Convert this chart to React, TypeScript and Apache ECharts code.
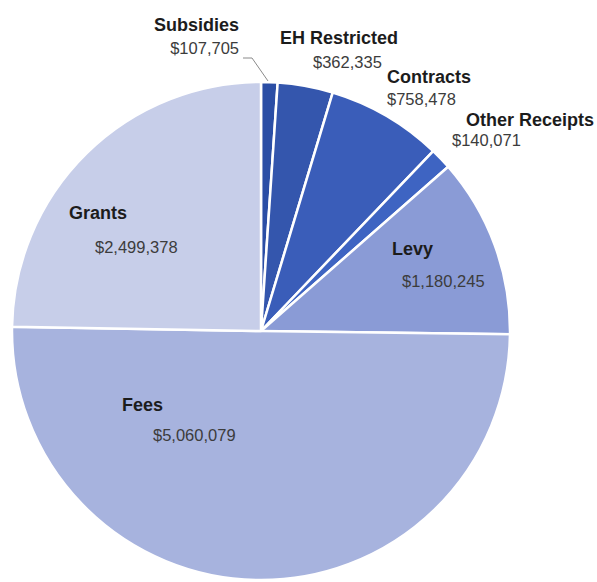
import React, { useEffect, useRef } from "react";
import * as echarts from "echarts";

const categories = ["Subsidies", "EH Restricted", "Contracts", "Other Receipts", "Levy", "Fees", "Grants"];
const values = [107705, 362335, 758478, 140071, 1180245, 5060079, 2499378];
const colors = ["#2b4ea5", "#3456ad", "#3a5db9", "#3e64c2", "#8a9bd6", "#a7b3de", "#c7cee9"];

// label layout (text placement only)
const LABEL_LAYOUT = [
  { x: 239, y: 13, align: "right", lh: 23, nPad: 0, vPad: 0, line: [[243, 58], [252, 58], [268, 81]] },
  { x: 280, y: 26, align: "left", lh: 24, nPad: 0, vPad: 33 },
  { x: 387, y: 66, align: "left", lh: 22, nPad: 0, vPad: 0 },
  { x: 452, y: 110, align: "left", lh: 20, nPad: 14, vPad: 0 },
  { x: 392, y: 233, align: "left", lh: 32, nPad: 0, vPad: 10 },
  { x: 122, y: 390, align: "left", lh: 30, nPad: 0, vPad: 31 },
  { x: 69, y: 196, align: "left", lh: 34, nPad: 0, vPad: 26 },
];

const FONT = "'Liberation Sans', Arial, sans-serif";

export default function App() {
  const ref = useRef<HTMLDivElement>(null);
  useEffect(() => {
    if (!ref.current) return;
    const chart = echarts.init(ref.current, null, { renderer: "svg" });
    const data = categories.map((name, i) => {
      const L = LABEL_LAYOUT[i];
      return {
        name,
        value: values[i],
        itemStyle: { color: colors[i] },
        label: {
          position: i < 4 ? "outside" : "inside",
          rich: {
            n: {
              fontFamily: FONT,
              fontWeight: "bold",
              fontSize: 18,
              color: "#1c1c1c",
              lineHeight: L.lh,
              padding: [0, 0, 0, L.nPad],
            },
            v: {
              fontFamily: FONT,
              fontSize: 16.5,
              color: "#3c3c3c",
              lineHeight: L.lh,
              padding: [0, 0, 0, L.vPad],
            },
          },
        },
        labelLine: { show: i === 0, lineStyle: { color: "#8a8a8a", width: 1 } },
      };
    });
    chart.setOption({
      animation: false,
      series: [
        {
          type: "pie",
          center: [261, 331],
          radius: 249,
          startAngle: 90,
          clockwise: true,
          avoidLabelOverlap: false,
          emphasis: { disabled: true },
          itemStyle: { borderColor: "#ffffff", borderWidth: 2.5 },
          label: {
            show: true,
            formatter: (p: any) => `{n|${p.name}}\n{v|$${Number(p.value).toLocaleString("en-US")}}`,
          },
          labelLayout: (params: any) => {
            const L = LABEL_LAYOUT[params.dataIndex];
            const r: any = { x: L.x, y: L.y, align: L.align, verticalAlign: "top" };
            if (L.line) r.labelLinePoints = L.line;
            return r;
          },
          data,
        },
      ],
    });
    return () => chart.dispose();
  }, []);
  return (
    <div
      ref={ref}
      style={{ position: "fixed", left: 0, top: 0, width: 597, height: 582, background: "#ffffff" }}
    />
  );
}
